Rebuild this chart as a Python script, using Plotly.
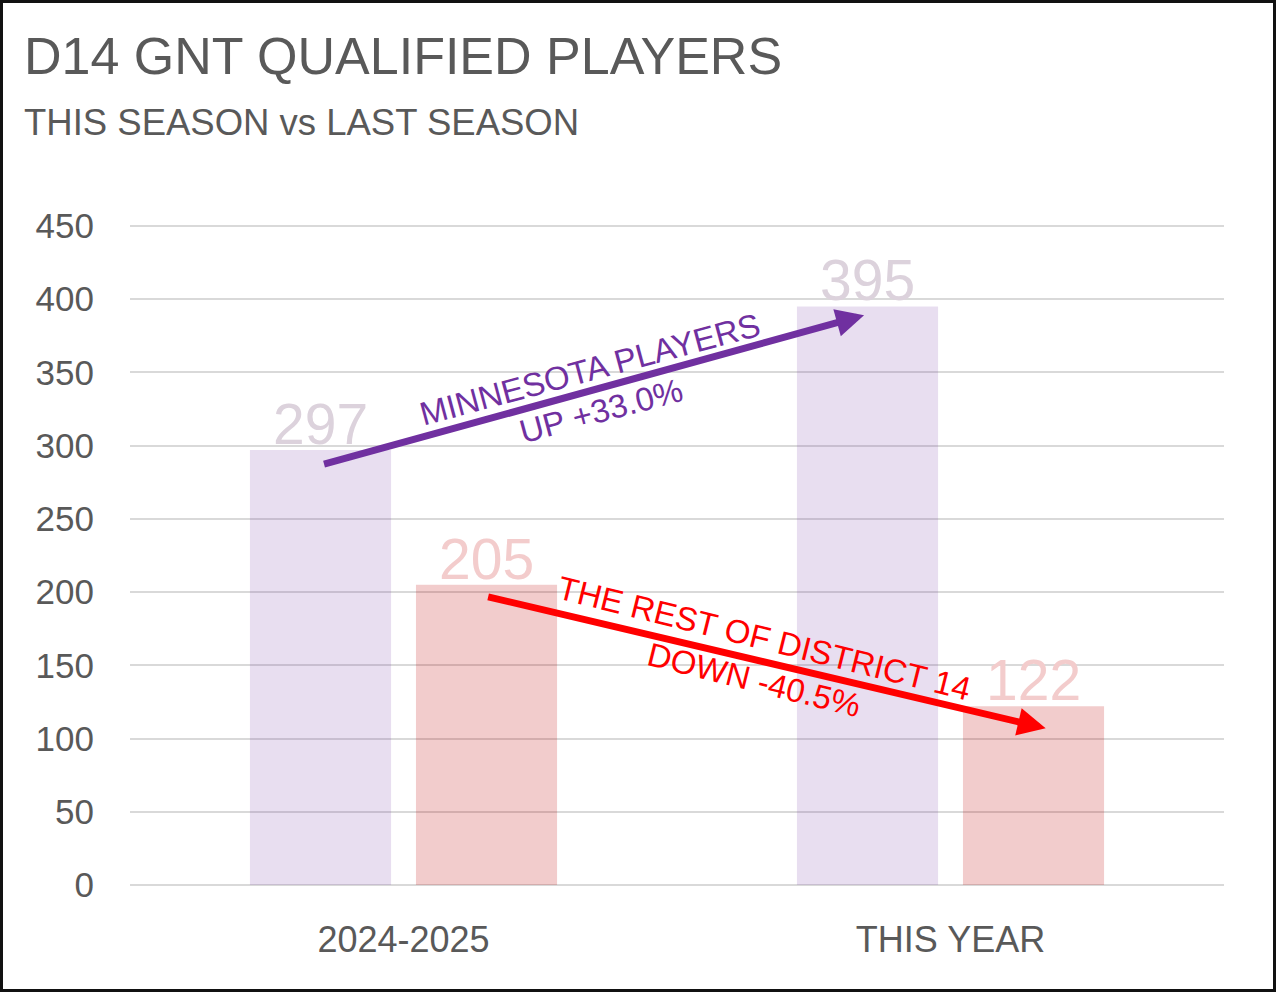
import plotly.graph_objects as go

# chart data
seasons = ["2024-2025", "THIS YEAR"]
minnesota = [297, 395]
rest_of_d14 = [205, 122]
y_ticks = [0, 50, 100, 150, 200, 250, 300, 350, 400, 450]

W, H = 1276, 992
L, R, T, B = 130, 52, 223, 107
pw, ph = W - L - R, H - T - B

GRAY = "#595959"
PURPLE = "#7030A0"
RED = "#FF0000"
FONT = "Liberation Sans, Arial, sans-serif"
BARGAP = 0.393

fig = go.Figure()
fig.add_trace(go.Bar(x=seasons, y=minnesota, name="Minnesota",
                     marker=dict(color=PURPLE, opacity=0.16, line=dict(width=0))))
fig.add_trace(go.Bar(x=seasons, y=rest_of_d14, name="Rest of D14",
                     marker=dict(color="#C00000", opacity=0.2, line=dict(width=0))))

# value labels sitting on top of each bar
off = (1 - BARGAP) / 4
for vals, shift, col in [(minnesota, -off, "#DCD2DC"), (rest_of_d14, off, "#F3CCCC")]:
    for i, v in enumerate(vals):
        fig.add_annotation(x=i + shift, y=v, xref="x", yref="y", text=str(v),
                           showarrow=False, yanchor="bottom", yshift=-8,
                           font=dict(size=57, color=col, family=FONT))

# arrows (tail -> head, in axis units)
fig.add_annotation(x=0.842, y=389, ax=-0.148, ay=287, xref="x", yref="y",
                   axref="x", ayref="y", text="", showarrow=True,
                   arrowhead=2, arrowsize=0.8, arrowwidth=7, arrowcolor=PURPLE, standoff=0)
fig.add_annotation(x=1.174, y=107, ax=0.152, ay=197, xref="x", yref="y",
                   axref="x", ayref="y", text="", showarrow=True,
                   arrowhead=2, arrowsize=0.8, arrowwidth=7, arrowcolor=RED, standoff=0)

# arrow captions
fig.add_annotation(x=0.351, y=338, xref="x", yref="y", showarrow=False,
                   text="MINNESOTA PLAYERS<br>UP +33.0%", textangle=-15,
                   font=dict(size=33, color=PURPLE, family=FONT))
fig.add_annotation(x=0.65, y=154, xref="x", yref="y", showarrow=False,
                   text="THE REST OF DISTRICT 14<br>DOWN -40.5%", textangle=14,
                   font=dict(size=33, color=RED, family=FONT))

# titles
fig.add_annotation(x=(22 - L) / pw, y=(H - B - 56) / ph, xref="paper", yref="paper",
                   xanchor="left", yanchor="middle", showarrow=False,
                   text="D14 GNT QUALIFIED PLAYERS",
                   font=dict(size=52, color=GRAY, family=FONT))
fig.add_annotation(x=(22 - L) / pw, y=(H - B - 123) / ph, xref="paper", yref="paper",
                   xanchor="left", yanchor="middle", showarrow=False,
                   text="THIS SEASON vs LAST SEASON",
                   font=dict(size=36.5, color=GRAY, family=FONT))

# outer border
fig.add_shape(type="rect", xref="paper", yref="paper",
              x0=(1.5 - L) / pw, x1=1 + (R - 1.5) / pw,
              y0=-(B - 1.5) / ph, y1=1 + (T - 1.5) / ph,
              line=dict(color="#111111", width=3))

fig.update_layout(
    width=W, height=H,
    margin=dict(l=L, r=R, t=T, b=B, pad=0),
    paper_bgcolor="white", plot_bgcolor="white",
    barmode="group", bargap=BARGAP, bargroupgap=0.15,
    showlegend=False,
    font=dict(family=FONT, color=GRAY),
    xaxis=dict(type="category", tickfont=dict(size=36, color=GRAY),
               showgrid=False, showline=False, ticks="", ticklabelstandoff=30),
    yaxis=dict(range=[0, 452], tickvals=y_ticks, tickfont=dict(size=35, color=GRAY),
               showgrid=True, gridcolor="#D9D9D9", gridwidth=2,
               zeroline=True, zerolinecolor="#D9D9D9", zerolinewidth=2,
               showline=False, ticks="", ticklabelstandoff=35),
)

fig.write_html("out.html", config={"displayModeBar": False},
               post_script="document.body.style.margin='0';")
